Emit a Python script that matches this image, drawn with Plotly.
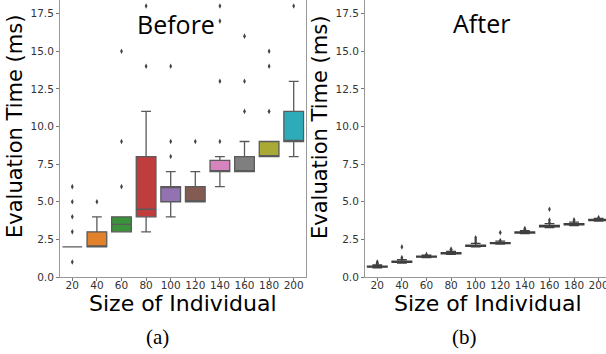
import plotly.graph_objects as go

W, H = 606, 354

categories = ["20", "40", "60", "80", "100", "120", "140", "160", "180", "200"]
colors = ["#3274a1", "#e1812c", "#3a923a", "#c03d3e", "#9372b2",
          "#845b53", "#d684bd", "#7f7f7f", "#a9aa35", "#2eabb8"]

# Before
before_q1 = [2, 2, 3, 4, 5, 5, 7, 7, 8, 9]
before_med = [2, 2, 3.5, 4.5, 6, 5, 7, 7, 8, 9]
before_q3 = [2, 3, 4, 8, 6, 6, 7.75, 8, 9, 11]
before_lo = [2, 2, 3, 3, 4, 5, 6, 7, 8, 8]
before_hi = [2, 4, 4, 11, 7, 7, 8, 9, 9, 13]
before_out = [[1, 3, 4, 5, 6], [5], [6, 9, 15], [14, 18], [8, 9, 14],
              [9], [9, 13, 17, 18], [11, 13, 16], [11, 14, 15], [18]]

# After
after_q1 = [0.65, 0.98, 1.32, 1.54, 2.04, 2.22, 2.92, 3.33, 3.46, 3.75]
after_med = [0.68, 1.02, 1.35, 1.57, 2.08, 2.25, 2.95, 3.38, 3.50, 3.78]
after_q3 = [0.72, 1.06, 1.38, 1.61, 2.12, 2.29, 2.99, 3.43, 3.55, 3.82]
after_lo = [0.60, 0.93, 1.29, 1.50, 2.00, 2.19, 2.89, 3.28, 3.42, 3.72]
after_hi = [0.80, 1.15, 1.45, 1.70, 2.24, 2.38, 3.08, 3.55, 3.65, 3.90]
after_out = [[0.85, 0.92, 1.0], [1.2, 1.3, 2.0], [1.5], [1.78, 1.85],
             [2.3, 2.45, 2.6], [2.42, 2.95], [3.15, 3.22], [3.62, 3.78, 4.5],
             [3.72, 3.8], [3.95]]

yticks = [0, 2.5, 5, 7.5, 10, 12.5, 15, 17.5]

fig = go.Figure()


def add_boxes(q1, med, q3, lo, hi, outs, xa, ya, linecol):
    for i in range(len(categories)):
        fig.add_trace(go.Box(
            x=[i], q1=[q1[i]], median=[med[i]], q3=[q3[i]],
            lowerfence=[lo[i]], upperfence=[hi[i]],
            width=0.8, whiskerwidth=0.5, boxpoints=False,
            fillcolor=colors[i], line=dict(color=linecol, width=1.3),
            xaxis=xa, yaxis=ya, showlegend=False, hoverinfo="skip"))
        fig.add_trace(go.Scatter(
            x=[i] * len(outs[i]), y=outs[i], mode="markers",
            marker=dict(symbol="diamond-tall", size=4, color="#444444"),
            xaxis=xa, yaxis=ya, showlegend=False, hoverinfo="skip"))


add_boxes(before_q1, before_med, before_q3, before_lo, before_hi, before_out, "x", "y", "#5a5a5a")
add_boxes(after_q1, after_med, after_q3, after_lo, after_hi, after_out, "x2", "y2", "#3f3f3f")

tickfont = dict(family="DejaVu Sans", size=10.5, color="#333333")
ydom = [77 / H, 1]

xcommon = dict(tickmode="array", tickvals=list(range(10)), ticktext=categories,
               showline=True, linecolor="#999999", linewidth=1, ticks="outside",
               ticklen=3, tickcolor="#777777", showgrid=False, zeroline=False,
               tickfont=tickfont, automargin=False, ticklabeloverflow="allow",
               ticklabelstandoff=-5)
ycommon = dict(range=[0, 18.4], tickvals=yticks, tickformat=".1f",
               showline=True, mirror=True, linecolor="#999999", linewidth=1,
               ticks="outside", ticklen=3, tickcolor="#777777", showgrid=False,
               zeroline=False, tickfont=tickfont, domain=ydom, automargin=False,
               ticklabeloverflow="allow")

fig.update_layout(
    width=W, height=H, margin=dict(l=0, r=0, t=0, b=0, autoexpand=False),
    paper_bgcolor="white", plot_bgcolor="white", boxmode="overlay",
    xaxis=dict(xcommon, domain=[60 / W, 306 / W], range=[-0.5, 9.5], anchor="y"),
    yaxis=dict(ycommon, anchor="x"),
    xaxis2=dict(xcommon, domain=[365 / W, 1], range=[-0.5, 9.3], anchor="y2"),
    yaxis2=dict(ycommon, anchor="x2"),
)


def px(x):
    return x / W


def py(y):
    return 1 - y / H


annots = [
    dict(text="Before", x=px(176), y=py(24), font=dict(family="Open Sans", size=25, color="black")),
    dict(text="After", x=px(481), y=py(23), font=dict(family="Open Sans", size=25, color="black")),
    dict(text="Evaluation Time (ms)", x=px(15), y=py(127), textangle=-90,
         font=dict(family="DejaVu Sans", size=21, color="black")),
    dict(text="Evaluation Time (ms)", x=px(320), y=py(127), textangle=-90,
         font=dict(family="DejaVu Sans", size=21, color="black")),
    dict(text="Size of Individual", x=px(183), y=py(303),
         font=dict(family="DejaVu Sans", size=22, color="black")),
    dict(text="Size of Individual", x=px(488), y=py(303),
         font=dict(family="DejaVu Sans", size=22, color="black")),
    dict(text="(a)", x=px(157), y=py(337), font=dict(family="Liberation Serif", size=21, color="black")),
    dict(text="(b)", x=px(464), y=py(337), font=dict(family="Liberation Serif", size=21, color="black")),
]
for a in annots:
    fig.add_annotation(xref="paper", yref="paper", showarrow=False,
                       xanchor="center", yanchor="middle", **a)

fig.write_html("out.html")
